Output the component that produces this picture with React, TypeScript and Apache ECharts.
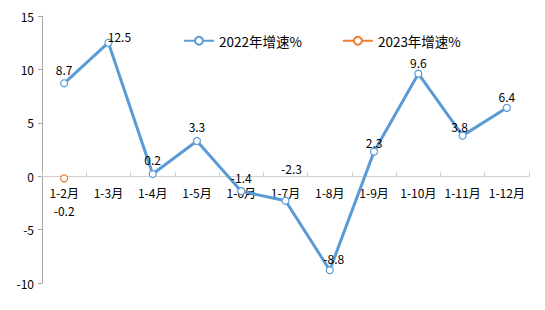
import React, { useEffect, useRef } from "react";
import * as echarts from "echarts";

const categories = ["1-2月", "1-3月", "1-4月", "1-5月", "1-6月", "1-7月", "1-8月", "1-9月", "1-10月", "1-11月", "1-12月"];
const growth2022 = [8.7, 12.5, 0.2, 3.3, -1.4, -2.3, -8.8, 2.3, 9.6, 3.8, 6.4];
const growth2023: (number | null)[] = [-0.2, null, null, null, null, null, null, null, null, null, null];
const labelOffsets2022: [number, number][] = [
  [0, 0], [11, 8], [0, 0], [0, 0], [0, 0], [6, -18], [4, 2], [0, 5], [0, 3], [-3, 5], [0, 3],
];
const yTicks = { min: -10, max: 15, interval: 5 };

const FONT = "'Noto Sans CJK SC', 'Noto Sans', sans-serif";
const GRID = { left: 42, right: 16, top: 16, bottom: 27 };
const HEIGHT = 310;

export default function App() {
  const ref = useRef<HTMLDivElement>(null);
  useEffect(() => {
    if (!ref.current) return;
    const chart = echarts.init(ref.current, null, { renderer: "svg" });
    const plotH = HEIGHT - GRID.top - GRID.bottom;
    const zeroOffset = -((0 - yTicks.min) / (yTicks.max - yTicks.min)) * plotH;
    chart.setOption({
      animation: false,
      backgroundColor: "#fff",
      textStyle: { fontFamily: FONT },
      legend: {
        left: 178,
        top: 29,
        itemWidth: 30,
        itemHeight: 10,
        itemGap: 40,
        textStyle: { fontSize: 13.5, color: "#000", fontFamily: FONT },
        data: ["2022年增速%", "2023年增速%"],
      },
      grid: GRID,
      xAxis: {
        type: "category",
        data: categories,
        position: "bottom",
        offset: zeroOffset,
        axisLine: { onZero: false, lineStyle: { color: "#d0d0d0", width: 1 } },
        axisTick: { show: true, inside: true, length: 4, lineStyle: { color: "#d0d0d0" } },
        axisLabel: { margin: 10, fontSize: 12, color: "#000", fontFamily: FONT, interval: 0 },
        splitLine: { show: false },
      },
      yAxis: {
        type: "value",
        min: yTicks.min,
        max: yTicks.max,
        interval: yTicks.interval,
        axisLine: { show: true, lineStyle: { color: "#a6a6a6" } },
        axisTick: { show: true, length: 4, lineStyle: { color: "#a6a6a6" } },
        axisLabel: { margin: 8, fontSize: 12, color: "#000", fontFamily: FONT },
        splitLine: { show: false },
      },
      series: [
        {
          name: "2022年增速%",
          type: "line",
          data: growth2022.map((v, i) => ({
            value: v,
            label: { offset: labelOffsets2022[i] },
          })),
          symbol: "circle",
          symbolSize: 7,
          itemStyle: { color: "#fff", borderColor: "#5B9BD5", borderWidth: 1.2 },
          lineStyle: { color: "#5B9BD5", width: 3 },
          label: { show: true, position: "top", distance: 4, fontSize: 12, color: "#000", fontFamily: FONT },
          z: 3,
        },
        {
          name: "2023年增速%",
          type: "line",
          data: growth2023,
          symbol: "circle",
          symbolSize: 7,
          itemStyle: { color: "#fff", borderColor: "#ED7D31", borderWidth: 1.2 },
          lineStyle: { color: "#ED7D31", width: 3 },
          label: { show: true, position: "bottom", distance: 22, fontSize: 12, color: "#000", fontFamily: FONT },
          z: 2,
        },
      ],
    });
    return () => chart.dispose();
  }, []);
  return (
    <div
      style={{
        position: "fixed",
        left: 0,
        top: 0,
        width: 545,
        height: 310,
        boxSizing: "border-box",
        border: "1px solid #d9d9d9",
        background: "#fff",
      }}
    >
      <div ref={ref} style={{ position: "absolute", left: -1, top: -1, width: 545, height: 310 }} />
    </div>
  );
}
